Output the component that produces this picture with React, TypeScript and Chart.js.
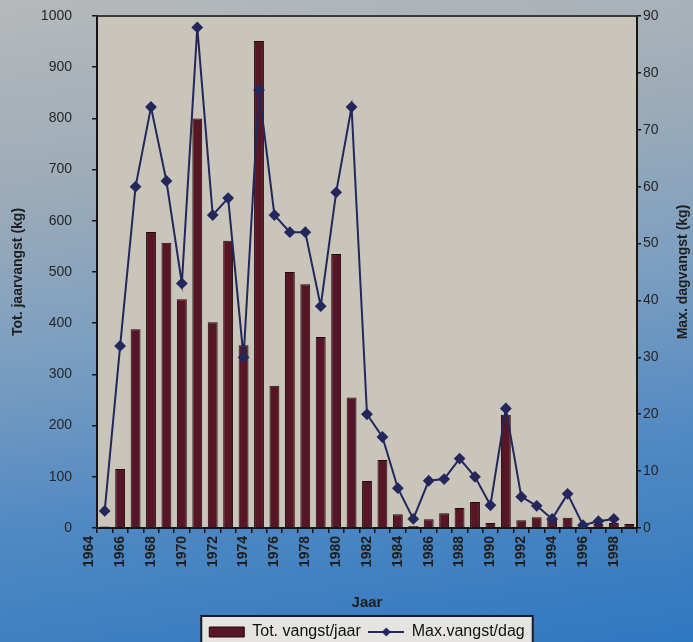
import React, { useEffect, useRef } from "react";
import { Chart, registerables } from "chart.js";

Chart.register(...registerables);

// ---- data ----
const years: string[] = [
  "1965", "1966", "1967", "1968", "1969", "1970", "1971", "1972", "1973", "1974",
  "1975", "1976", "1977", "1978", "1979", "1980", "1981", "1982", "1983", "1984",
  "1985", "1986", "1987", "1988", "1989", "1990", "1991", "1992", "1993", "1994",
  "1995", "1996", "1997", "1998", "1999",
];
const leadingTickLabel = "1964";
const totVangstJaar: number[] = [
  3, 115, 388, 578, 557, 447, 800, 402, 561, 357,
  951, 278, 500, 476, 373, 535, 255, 92, 133, 27,
  4, 17, 29, 39, 51, 10, 221, 15, 21, 18,
  20, 3, 8, 10, 8,
];
const maxVangstDag: (number | null)[] = [
  3, 32, 60, 74, 61, 43, 88, 55, 58, 30,
  77, 55, 52, 52, 39, 59, 74, 20, 16, 7,
  1.6, 8.3, 8.6, 12.2, 9, 4, 21, 5.5, 3.9, 1.6,
  6, 0.5, 1.2, 1.6, null,
];
const seriesNames = ["Tot. vangst/jaar", "Max.vangst/dag"];
const leftTitle = "Tot. jaarvangst (kg)";
const rightTitle = "Max. dagvangst (kg)";
const xTitle = "Jaar";

// ---- styles ----
const FONT = '"Liberation Sans", Arial, sans-serif';
const PLOT_BG = "#c9c5ba";
const BAR_FILL = "#561626";
const BAR_BORDER = "#22080e";
const LINE_COLOR = "#23275c";
const AXIS_COLOR = "#161616";
const TEXT_COLOR = "#1e1e1e";

export default function App() {
  const canvasRef = useRef<HTMLCanvasElement | null>(null);

  useEffect(() => {
    if (!canvasRef.current) return;

    const swatch = document.createElement("canvas");
    swatch.width = 36;
    swatch.height = 12;
    const sctx = swatch.getContext("2d")!;
    sctx.strokeStyle = LINE_COLOR;
    sctx.lineWidth = 2;
    sctx.beginPath();
    sctx.moveTo(0, 6);
    sctx.lineTo(36, 6);
    sctx.stroke();
    sctx.fillStyle = LINE_COLOR;
    sctx.beginPath();
    sctx.moveTo(18, 1.5);
    sctx.lineTo(22.5, 6);
    sctx.lineTo(18, 10.5);
    sctx.lineTo(13.5, 6);
    sctx.closePath();
    sctx.fill();

    const decor = {
      id: "decor",
      beforeDraw(chart: any) {
        const { ctx, chartArea: a } = chart;
        ctx.save();
        ctx.fillStyle = PLOT_BG;
        ctx.fillRect(a.left, a.top, a.right - a.left, a.bottom - a.top);
        const lg = chart.legend;
        if (lg && lg.legendHitBoxes && lg.legendHitBoxes.length) {
          const hb = lg.legendHitBoxes;
          const x0 = Math.min(...hb.map((h: any) => h.left)) - 8;
          const x1 = Math.max(...hb.map((h: any) => h.left + h.width)) + 8;
          const y0 = Math.min(...hb.map((h: any) => h.top)) - 8;
          const y1 = Math.max(...hb.map((h: any) => h.top + h.height)) + 20;
          ctx.fillStyle = "#e6e4e1";
          ctx.fillRect(x0, y0, x1 - x0, y1 - y0);
          ctx.strokeStyle = "#181a2c";
          ctx.lineWidth = 2;
          ctx.strokeRect(x0, y0, x1 - x0, y1 - y0);
        }
        ctx.restore();
      },
      afterDraw(chart: any) {
        const { ctx, chartArea: a } = chart;
        ctx.save();
        ctx.strokeStyle = "#3a3a3a";
        ctx.lineWidth = 2;
        ctx.beginPath();
        ctx.moveTo(a.left, a.top);
        ctx.lineTo(a.right, a.top);
        ctx.stroke();
        ctx.fillStyle = TEXT_COLOR;
        ctx.font = `bold 14px ${FONT}`;
        ctx.textAlign = "center";
        ctx.textBaseline = "middle";
        ctx.translate(683, (a.top + a.bottom) / 2);
        ctx.rotate(-Math.PI / 2);
        ctx.fillText(rightTitle, 0, 0);
        ctx.restore();
        const xs = chart.scales.x;
        const px = xs.getPixelForValue(-1);
        ctx.save();
        ctx.fillStyle = TEXT_COLOR;
        ctx.font = `bold 14px ${FONT}`;
        ctx.textAlign = "right";
        ctx.textBaseline = "middle";
        ctx.translate(px, a.bottom + 5 + 3);
        ctx.rotate(-Math.PI / 2);
        ctx.fillText(leadingTickLabel, 0, 0);
        ctx.restore();
      },
    };

    const chart = new Chart(canvasRef.current, {
      type: "bar",
      data: {
        labels: years,
        datasets: [
          {
            type: "bar",
            label: seriesNames[0],
            data: totVangstJaar,
            backgroundColor: BAR_FILL,
            borderColor: BAR_BORDER,
            borderWidth: 1,
            categoryPercentage: 1,
            barPercentage: 0.64,
            yAxisID: "y",
            order: 1,
          } as any,
          {
            type: "line",
            label: seriesNames[1],
            data: maxVangstDag,
            borderColor: LINE_COLOR,
            backgroundColor: LINE_COLOR,
            borderWidth: 2,
            tension: 0,
            pointStyle: "rectRot",
            pointRadius: 4.5,
            pointBackgroundColor: LINE_COLOR,
            pointBorderColor: LINE_COLOR,
            yAxisID: "y1",
            order: 0,
          } as any,
        ],
      },
      options: {
        animation: false,
        responsive: true,
        maintainAspectRatio: false,
        layout: { padding: { top: 16, bottom: -8, left: 0, right: 0 } },
        plugins: {
          tooltip: { enabled: false },
          legend: {
            position: "bottom",
            fullSize: false,
            labels: {
              usePointStyle: true,
              pointStyleWidth: 35,
              boxHeight: 10,
              padding: 8,
              color: "#111",
              font: { size: 16, family: FONT },
              sort: (a: any, b: any) => a.datasetIndex - b.datasetIndex,
              generateLabels: (chart: any) => {
                const items = Chart.defaults.plugins.legend.labels.generateLabels(chart);
                items.forEach((it: any) => {
                  if (it.datasetIndex === 0) {
                    it.pointStyle = "rect";
                    it.fillStyle = BAR_FILL;
                    it.strokeStyle = BAR_BORDER;
                    it.lineWidth = 1;
                  } else {
                    it.pointStyle = swatch;
                  }
                });
                return items;
              },
            },
          },
        },
        scales: {
          x: {
            type: "category",
            offset: true,
            grid: {
              offset: true,
              drawOnChartArea: false,
              tickLength: 5,
              color: AXIS_COLOR,
              lineWidth: 1.5,
            },
            border: { color: AXIS_COLOR, width: 2 },
            ticks: {
              autoSkip: false,
              maxRotation: 90,
              minRotation: 90,
              padding: 3,
              color: TEXT_COLOR,
              font: { size: 14, weight: "bold", family: FONT },
              callback: (_v: any, i: number) => (Number(years[i]) % 2 === 0 ? years[i] : ""),
            },
            title: {
              display: true,
              text: xTitle,
              color: TEXT_COLOR,
              font: { size: 15, weight: "bold", family: FONT },
              padding: { top: 4, bottom: 4 },
            },
            afterFit: (s: any) => {
              s.height = 88;
              s.paddingLeft = 0;
              s.paddingRight = 0;
            },
          },
          y: {
            position: "left",
            min: 0,
            max: 1000,
            ticks: {
              stepSize: 100,
              padding: 20,
              color: "#262626",
              font: { size: 14, family: FONT },
              callback: (v: any) => String(v),
            },
            grid: {
              drawOnChartArea: false,
              tickLength: 5,
              color: AXIS_COLOR,
              lineWidth: 1.5,
            },
            border: { color: AXIS_COLOR, width: 2 },
            title: {
              display: true,
              text: leftTitle,
              color: TEXT_COLOR,
              font: { size: 14, weight: "bold", family: FONT },
              padding: { top: 10, bottom: 0 },
            },
            afterFit: (s: any) => {
              s.width = 97;
              s.paddingTop = 0;
              s.paddingBottom = 0;
            },
          },
          y1: {
            position: "right",
            min: 0,
            max: 90,
            ticks: {
              stepSize: 10,
              padding: 2,
              color: "#262626",
              font: { size: 14, family: FONT },
              callback: (v: any) => String(v),
            },
            grid: {
              drawOnChartArea: false,
              tickLength: 4,
              color: AXIS_COLOR,
              lineWidth: 1.5,
            },
            border: { color: AXIS_COLOR, width: 2 },
            afterFit: (s: any) => {
              s.width = 56;
              s.paddingTop = 0;
              s.paddingBottom = 0;
            },
          },
        },
      } as any,
      plugins: [decor],
    });

    return () => chart.destroy();
  }, []);

  return (
    <div
      style={{
        position: "fixed",
        left: 0,
        top: 0,
        width: 693,
        height: 642,
        background:
          "linear-gradient(172deg, #b6b9bb 0%, #9eacb8 25%, #7d9fc0 48%, #5189c3 72%, #2e78c0 100%)",
      }}
    >
      <canvas ref={canvasRef} />
    </div>
  );
}
